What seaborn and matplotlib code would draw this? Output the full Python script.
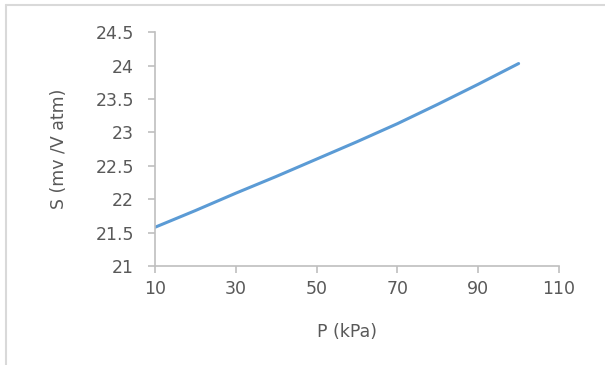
import numpy as np
import pandas as pd
import matplotlib
matplotlib.use("Agg")
import matplotlib.pyplot as plt
import seaborn as sns
from matplotlib.lines import Line2D

# valores
pressure = [10, 20, 30, 40, 50, 60, 70, 80, 90, 100]
sensitivity = [21.58, 21.83, 22.09, 22.34, 22.60, 22.86, 23.13, 23.42, 23.72, 24.03]
x_ticks = [10, 30, 50, 70, 90, 110]
y_ticks = [21, 21.5, 22, 22.5, 23, 23.5, 24, 24.5]

df = pd.DataFrame({"P": pressure, "S": sensitivity})

sns.set_style("white")
plt.rcParams['font.family'] = ['DejaVu Sans']
gray = "#595959"
axis_gray = "#BFBFBF"
fs = 12.5

fig = plt.figure(figsize=(6.05, 3.65), dpi=100)
ax = fig.add_axes([0.256, 0.271, 0.668, 0.641])

sns.lineplot(data=df, x="P", y="S", ax=ax, color="#5B9BD5", linewidth=2.2)

ax.set_xlim(10, 110)
ax.set_ylim(21, 24.5)
ax.set_xticks(x_ticks)
ax.set_yticks(y_ticks)
ax.set_yticklabels([("%g" % v) for v in y_ticks])
ax.set_xlabel("P (kPa)", color=gray, fontsize=fs)
ax.set_ylabel("S (mv /V atm)", color=gray, fontsize=fs, labelpad=20)
ax.xaxis.set_label_coords(0.475, -0.245)
ax.tick_params(axis="both", colors=axis_gray, labelcolor=gray, labelsize=fs,
               length=5, width=1.2, direction="out", bottom=True, left=True)
ax.tick_params(axis="x", pad=5)
ax.tick_params(axis="y", pad=10)

for side in ["top", "right"]:
    ax.spines[side].set_visible(False)
for side in ["left", "bottom"]:
    ax.spines[side].set_color(axis_gray)
    ax.spines[side].set_linewidth(1.2)

# borde gris solo arriba y a la izquierda
fig.add_artist(Line2D([0.01, 1.0], [0.985, 0.985], transform=fig.transFigure,
                      color="#D9D9D9", linewidth=1.5))
fig.add_artist(Line2D([0.01, 0.01], [0.0, 0.985], transform=fig.transFigure,
                      color="#D9D9D9", linewidth=1.5))

fig.savefig("out.png", dpi=100)
